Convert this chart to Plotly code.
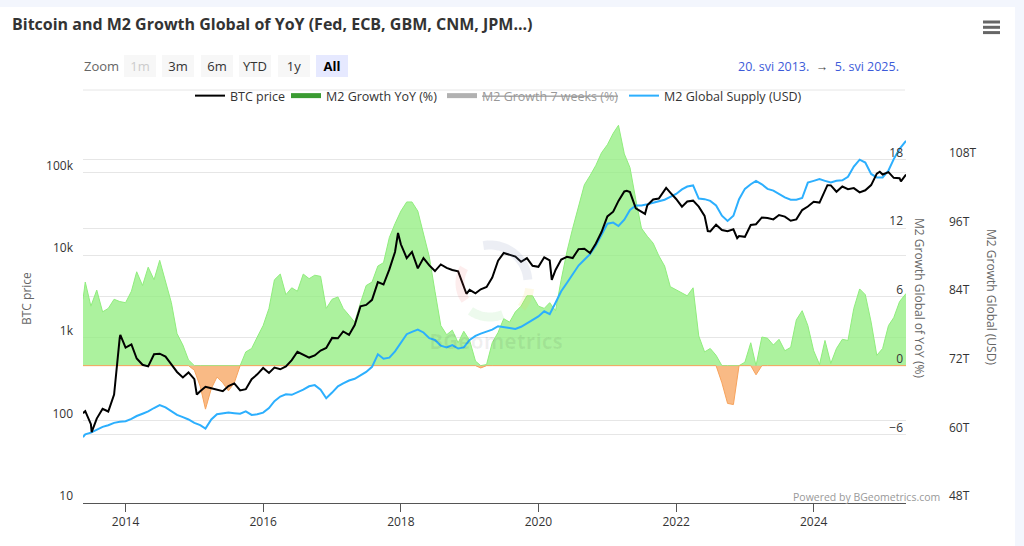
import numpy as np
import pandas as pd
import plotly.graph_objects as go

# first of month samples between the first and the last observation
months = pd.date_range("2013-06-01", "2025-04-01", freq="MS").strftime("%Y-%m-%d").tolist()
dates = ["2013-05-20"] + months + ["2025-05-05"]

btc_price = [
    122,
    129, 90, 105, 138, 128, 205, 1000,
    760, 830, 560, 470, 450, 630, 640, 590, 475, 385, 330, 380,
    315, 225, 255, 245, 235, 225, 260, 280, 230, 238, 315, 360,
    430, 375, 435, 415, 450, 535, 675, 625, 575, 610, 700, 750,
    995, 985, 1190, 1080, 1420, 2400, 2490, 2870, 4700, 4400, 6700, 10900,
    13500, 9200, 10900, 6900, 9200, 7500, 6400, 7700, 7000, 6600, 6350, 4000,
    3800, 3450, 3850, 4100, 5350, 8550, 10600, 10100, 9600, 8300, 9200, 7400,
    7200, 9400, 8600, 6600, 8800, 9500, 9200, 11800, 11900, 10600, 13800, 19000,
    29300, 33500, 45200, 58800, 57800, 36700, 33600, 40000, 47000, 48200, 61000, 57000,
    47700, 38500, 44400, 45500, 38500, 29800, 19300, 23300, 20100, 19400, 20500, 17000,
    16600, 23100, 23600, 28500, 28100, 27000, 30500, 29200, 26000, 27000, 35000, 38700,
    44200, 43100, 62400, 69700, 58300, 67500, 62700, 64600, 57300, 60800, 70200, 96500,
    94400, 100600, 86000, 85100,
    94300,
]

# highs and lows between the monthly samples
btc_extra_dates = ["2013-07-05", "2013-12-04", "2015-01-14", "2017-12-17", "2018-12-15",
                   "2020-03-12", "2021-04-14", "2021-07-20", "2021-11-09", "2022-06-18",
                   "2022-11-21", "2024-03-14", "2024-12-17", "2025-04-08"]
btc_extra_price = [72, 1080, 205, 18500, 3400, 5000, 60000, 31500, 65000, 19500,
                   16000, 70000, 102000, 78000]

m2_yoy = [
    5.8,
    7.3, 5.2, 6.6, 4.7, 5.0, 5.8, 5.6,
    5.5, 6.5, 8.2, 7.0, 8.6, 7.5, 9.2, 7.4, 5.5, 2.8, 1.8, 0.5,
    -0.4, -1.8, -3.8, -2.0, -1.0, -1.5, -2.2, -1.5, 0.0, 1.2, 1.5, 2.5,
    3.5, 5.0, 7.5, 8.0, 6.2, 6.8, 6.5, 8.0, 7.6, 7.9, 7.8, 5.0,
    5.8, 6.0, 5.0, 4.4, 3.8, 5.5, 7.0, 7.3, 8.7, 9.0, 11.2, 12.4,
    13.5, 14.3, 14.3, 13.5, 11.5, 9.5, 6.5, 3.5, 2.7, 3.1, 2.0, 3.0,
    2.2, 0.4, -0.2, 0.1, 2.0, 2.9, 4.1, 3.8, 4.7, 5.2, 6.1, 6.1,
    5.2, 5.0, 5.5, 4.8, 7.5, 10.0, 12.0, 14.0, 15.8, 16.6, 17.5, 18.6,
    19.3, 20.3, 21.0, 18.5, 17.3, 14.5, 12.0, 11.3, 10.7, 9.6, 8.7, 6.9,
    6.6, 6.3, 6.1, 6.8, 2.6, 1.2, 1.5, 0.9, -1.5, -3.3, -3.4, 0.0,
    0.3, 2.0, -0.8, 2.5, 2.4, 1.8, 2.3, 1.3, 1.6, 4.0, 4.8, 3.5,
    1.3, 0.1, 2.2, 0.2, 1.5, 2.3, 2.2, 5.0, 6.7, 6.2, 3.8, 0.9,
    1.5, 3.5, 4.2, 5.6,
    6.3,
]

# trillions of USD
m2_supply = [
    59.5,
    60.0, 60.3, 60.8, 61.3, 61.6, 62.0, 62.2,
    62.3, 62.7, 63.2, 63.6, 64.0, 64.6, 65.1, 64.7, 64.0, 63.4, 63.0, 62.6,
    62.0, 61.6, 61.0, 62.6, 63.5, 63.6, 63.8, 63.7, 63.6, 64.0, 63.4, 63.5,
    63.8, 64.6, 65.8, 66.6, 67.0, 66.9, 67.3, 67.8, 68.4, 68.6, 67.8, 66.3,
    67.3, 68.4, 68.9, 69.4, 69.7, 70.3, 70.9, 71.8, 74.0, 73.2, 73.4, 74.5,
    76.0, 77.5, 77.9, 78.3, 77.8, 76.8, 76.5, 75.5, 75.2, 75.6, 75.0, 75.2,
    76.5, 77.2, 77.6, 78.0, 78.3, 78.9, 78.8, 78.6, 78.4, 78.8, 79.4, 80.0,
    80.6, 81.5, 81.0, 83.0, 85.0, 86.5, 88.0, 89.5, 90.5, 91.5, 93.0, 95.0,
    96.8, 97.0, 96.4, 97.5, 99.2, 100.0, 100.0, 100.2, 100.5, 100.7, 101.0, 101.5,
    102.0, 102.8, 103.3, 103.5, 101.2, 101.1, 100.8, 100.0, 98.2, 97.3, 98.2, 101.1,
    102.9, 103.7, 104.3, 103.7, 102.9, 102.6, 102.0, 101.4, 101.0, 101.0, 101.3, 104.0,
    104.3, 104.6, 104.3, 104.0, 104.3, 104.4, 105.0, 106.8, 108.0, 107.5, 105.5, 104.9,
    104.9, 106.1, 108.1, 109.9,
    111.3,
]

btc_ticks = [10, 100, 1000, 10000, 100000]
btc_ticktext = ["10", "100", "1k", "10k", "100k"]
zoom_buttons = ["1m", "3m", "6m", "YTD", "1y", "All"]

btc = pd.DataFrame({"date": pd.to_datetime(dates + btc_extra_dates),
                    "price": btc_price + btc_extra_price}).sort_values("date")
yoy = np.array(m2_yoy)
yoy_pos = np.where(yoy > 0, yoy, 0)
yoy_neg = np.where(yoy < 0, yoy, 0)

# plot area in pixels: 83..906 x 112..503
L, R, T, B = 83, 906, 112, 503
W, H = R - L, B - T


def px_x(p):
    return (p - L) / W


def px_y(p):
    return (B - p) / H


FONT = "Open Sans"

fig = go.Figure()

fig.add_trace(go.Scatter(x=dates, y=yoy_pos, yaxis="y", fill="tozeroy",
                         fillcolor="rgba(144,237,125,0.75)",
                         line=dict(color="#90ed7d", width=1),
                         showlegend=False, hoverinfo="skip"))
fig.add_trace(go.Scatter(x=dates, y=yoy_neg, yaxis="y", fill="tozeroy",
                         fillcolor="rgba(247,163,92,0.75)",
                         line=dict(color="#f7a35c", width=1),
                         showlegend=False, hoverinfo="skip"))
fig.add_trace(go.Scatter(x=dates, y=m2_supply, yaxis="y2", mode="lines",
                         name="M2 Global Supply (USD)", legend="legend4",
                         line=dict(color="#2caffe", width=2)))
fig.add_trace(go.Scatter(x=btc["date"], y=btc["price"], yaxis="y3", mode="lines",
                         name="BTC price", legend="legend",
                         line=dict(color="#000000", width=2)))
# legend entries for the area series
fig.add_trace(go.Scatter(x=[None], y=[None], yaxis="y", mode="lines",
                         name="M2 Growth YoY (%)", legend="legend2",
                         line=dict(color="#3a9b32", width=5)))
fig.add_trace(go.Scatter(x=[None], y=[None], yaxis="y", mode="lines",
                         name="<s>M2 Growth 7 weeks (%)</s>", legend="legend3",
                         visible="legendonly",
                         line=dict(color="#666666", width=5)))

tickfont = dict(family=FONT, size=12, color="#333333")


def legend_at(text_left):
    return dict(orientation="h", x=px_x(text_left - 42), xanchor="left",
                y=px_y(96), yanchor="middle", bgcolor="rgba(0,0,0,0)",
                font=dict(family=FONT, size=12.5, color="#333333"))


annotations = []


def note(text, x, y, **kw):
    d = dict(text=text, x=px_x(x), y=px_y(y), xref="paper", yref="paper",
             xanchor="center", yanchor="middle", showarrow=False,
             font=dict(family=FONT, size=12, color="#666666"))
    d.update(kw)
    annotations.append(d)


note("BTC price", 26, 298, textangle=-90)
note("M2 Growth Global of YoY (%)", 920, 298, textangle=90)
note("M2 Growth Global (USD)", 992, 297, textangle=90)
note("Zoom", 101, 66.5, font=dict(family=FONT, size=13, color="#666666"))
for i, lab in enumerate(zoom_buttons):
    cx = 139.5 + i * 38.5
    if lab == "1m":
        f = dict(family=FONT, size=13, color="#cccccc")
        bg = "#f7f7f7"
    elif lab == "All":
        f = dict(family=FONT, size=13, color="#000000")
        bg = "#e6e9ff"
    else:
        f = dict(family=FONT, size=13, color="#333333")
        bg = "#f7f7f7"
    note(lab if lab != "All" else "<b>All</b>", cx, 66.3, width=32, height=22,
         bgcolor=bg, borderwidth=0, borderpad=0, font=f)
note("20. svi 2013.  <span style='color:#444444'>→</span>  5. svi 2025.", 901, 66.5,
     xanchor="right", font=dict(family=FONT, size=12.5, color="#3d5bd9"))
note("Powered by BGeometrics.com", 942, 496.5, xanchor="right",
     font=dict(family=FONT, size=10.5, color="#999999"))
note("<b>BGeometrics</b>", 496, 341, font=dict(family=FONT, size=21, color="rgba(0,0,0,0.06)"))

shapes = [
    # white card on the light frame
    dict(type="rect", xref="paper", yref="paper", x0=px_x(0), x1=px_x(1015),
         y0=px_y(546), y1=px_y(7), fillcolor="#ffffff", line=dict(width=0), layer="below"),
    # separator above the legend
    dict(type="line", xref="paper", yref="paper", x0=px_x(83), x1=px_x(905),
         y0=px_y(90), y1=px_y(90), line=dict(color="#e6e6e6", width=1)),
]
for yy in (22, 27.3, 32.6):
    shapes.append(dict(type="line", xref="paper", yref="paper", x0=px_x(983), x1=px_x(1000),
                       y0=px_y(yy), y1=px_y(yy), line=dict(color="#666666", width=3)))


def arc_path(cx, cy, r, a0, a1, n=30):
    ang = np.radians(np.linspace(a0, a1, n))
    pts = [f"{px_x(cx + r * np.cos(a)):.5f},{px_y(cy - r * np.sin(a)):.5f}" for a in ang]
    return "M" + " L".join(pts)


for r, a0, a1, col in [(38, 100, 5, "rgba(110,120,170,0.13)"),
                       (30, 150, 215, "rgba(240,90,90,0.11)"),
                       (40, -8, -38, "rgba(240,215,80,0.14)"),
                       (34, 235, 292, "rgba(110,215,110,0.12)")]:
    shapes.append(dict(type="path", xref="paper", yref="paper",
                       path=arc_path(490, 283, r, a0, a1), line=dict(color=col, width=9)))

fig.update_layout(
    width=1024, height=546,
    margin=dict(l=L, r=1024 - R, t=T, b=546 - B),
    paper_bgcolor="#f3f6fd", plot_bgcolor="#ffffff",
    font=dict(family=FONT, color="#333333"),
    title=dict(text="<b>Bitcoin and M2 Growth Global of YoY (Fed, ECB, GBM, CNM, JPM...)</b>",
               xref="container", x=12 / 1024, xanchor="left",
               yref="container", y=1 - 24 / 546, yanchor="middle",
               font=dict(family=FONT, size=16, color="#333333")),
    xaxis=dict(type="date", range=["2013-05-20", "2025-05-05"], showgrid=False,
               showline=True, linecolor="#555555", linewidth=1, ticks="outside",
               ticklen=8, tickcolor="#555555", tick0="2014-01-01", dtick="M24",
               tickformat="%Y", tickfont=tickfont, zeroline=False),
    yaxis=dict(side="right", range=[-12, 22.16], tick0=0, dtick=6,
               gridcolor="#e6e6e6", zeroline=False, showline=False,
               ticklabelposition="inside", ticklabelshift=-7, tickfont=tickfont),
    yaxis2=dict(overlaying="y", side="right", anchor="free", position=1,
                range=[48, 116.33], tick0=48, dtick=12, ticksuffix="T",
                showgrid=False, zeroline=False, showline=False,
                ticklabelshift=-7, ticklabelstandoff=42, tickfont=tickfont),
    yaxis3=dict(overlaying="y", side="left", type="log", range=[1, 5.7308],
                tickvals=btc_ticks, ticktext=btc_ticktext, gridcolor="#e6e6e6",
                zeroline=False, showline=False, ticklabelshift=-7,
                ticklabelstandoff=9, tickfont=tickfont),
    legend=legend_at(232),
    legend2=legend_at(328),
    legend3=legend_at(484),
    legend4=legend_at(666),
    annotations=annotations,
    shapes=shapes,
    hovermode="x unified",
)

# the page keeps the browser's default body margin otherwise
fig.write_html("out.html", config={"displayModeBar": False},
               post_script="document.body.style.margin='0';")
